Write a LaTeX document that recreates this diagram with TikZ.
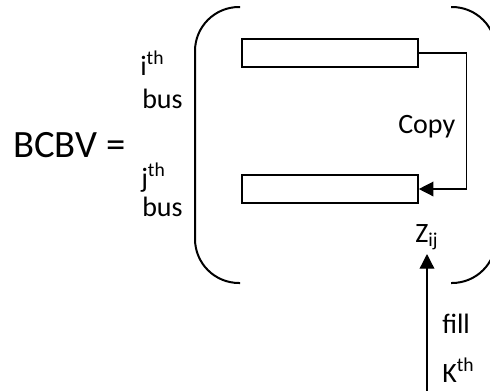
\documentclass[tikz,border=0pt]{standalone}
\usepackage{fontspec}
\setmainfont{Carlito}
\usetikzlibrary{arrows.meta}

\begin{document}
\begin{tikzpicture}[x=0.75pt,y=0.75pt,yscale=-1,xscale=1]
\tikzset{
  busbox/.style={draw,line width=1.2pt,minimum width=132pt,minimum height=21pt,inner sep=0pt},
  brak/.style={line width=1.5pt,rounded corners=33pt},
  flow/.style={line width=1pt,-{Triangle[length=11pt,width=11pt]}},
  txt/.style={anchor=base west,inner sep=0pt,font=\fontsize{21}{25}\selectfont}
}
\useasboundingbox (0,0) rectangle (490,390);

% big bracket pair
\draw[brak] (240,7) -- (195,7) -- (195,283) -- (240,283);
\draw[brak] (451,7) -- (496,7) -- (496,283) -- (451,283);

% the two bus rows
\node[busbox] (rowi) at (330,53) {};
\node[busbox] (rowj) at (330,189) {};

\draw (13,157) node [anchor=base west][inner sep=0pt] [font=\fontsize{29}{33}\selectfont] (bcbv) {BCBV =};

\node[txt] (ilab) at (140,75) {i\textsuperscript{th}};
\node[txt] (ibus) at (142,108) {bus};
\node[txt] (jlab) at (141,187) {j\textsuperscript{th}};
\node[txt] (jbus) at (142,216) {bus};

\node[txt] (copy) at (398,133) {Copy};
\node[txt] (zij) at (415,242) {Z\textsubscript{ij}};
\node[txt] (fill) at (442,333) {fill};
\node[txt] (kth) at (442,382) {K\textsuperscript{th}};

% copy row i into row j
\draw[flow] (rowi.east) -- ++(48,0) |- (rowj.east);

% fill from below
\coordinate (kbot) at (427,392);
\draw[flow] (kbot) -- (kbot |- 0,254);

\end{tikzpicture}
\end{document}
